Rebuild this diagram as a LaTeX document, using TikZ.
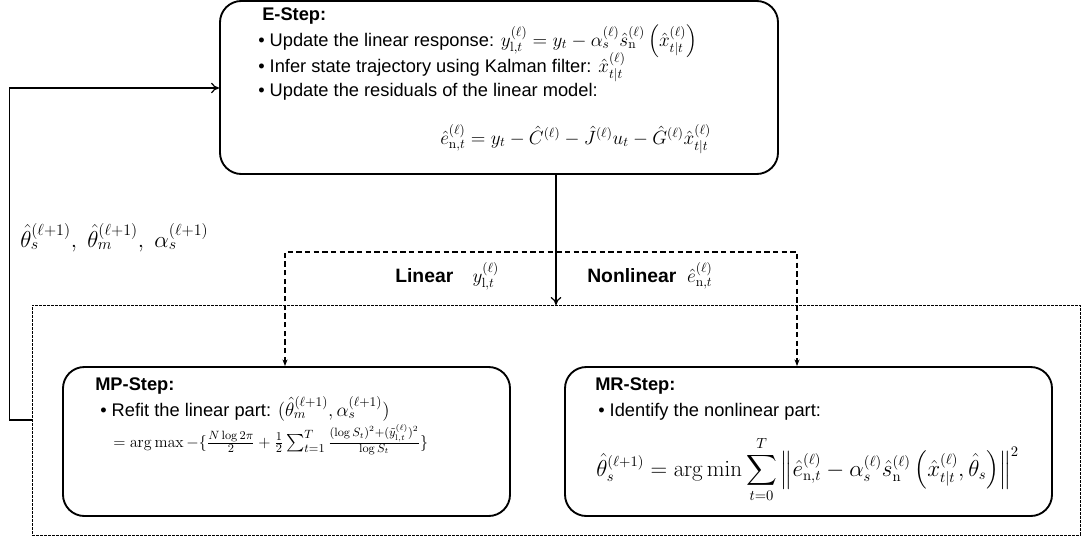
\documentclass[tikz,border=0pt]{standalone}
\usepackage{amsmath, amssymb}
\usepackage[no-math]{fontspec}
\setmainfont{Liberation Sans}
\usetikzlibrary{positioning, fit, arrows.meta}

\begin{document}
\begin{tikzpicture}[x=0.75pt, y=-0.75pt,
        stepbox/.style={draw, line width=1.4pt, rounded corners=16pt, inner sep=0pt},
        outerbox/.style={draw, line width=0.6pt, dash pattern=on 2pt off 1pt, inner sep=0pt},
        flow/.style={line width=0.9pt, -{To[length=6pt, width=8pt]}},
        split/.style={line width=0.8pt, dash pattern=on 4pt off 2.5pt},
        txt/.style={anchor=base west, inner sep=0pt, font=\fontsize{13.7}{16}\selectfont},
        head/.style={txt, font=\fontsize{13.7}{16}\selectfont\bfseries}]
        \useasboundingbox (0,0) rectangle (1088,539);
        % boxes
        \node (estep) [stepbox, fit={(220,1) (778,174)}] {};
        \node (fitbox) [outerbox, fit={(32,305) (1080,535)}] {};
        \node (mp) [stepbox, fit={(63,367) (510,516)}] {};
        \node (mr) [stepbox, fit={(565,367) (1052,516)}] {};
        % E-Step text
        \node (etitle) [head] at (262,21) {E-Step:};
        \node (eline1) [txt] at (258,46) {\textbullet\ Update the linear response: $y_{\mathrm{l},t}^{(\ell)} = y_t - \alpha_s^{(\ell)}\hat{s}_{\mathrm{n}}^{(\ell)}\left(\hat{x}_{t|t}^{(\ell)}\right)$};
        \node (eline2) [txt] at (258,72) {\textbullet\ Infer state trajectory using Kalman filter: $\hat{x}_{t|t}^{(\ell)}$};
        \node (eline3) [txt] at (258,96) {\textbullet\ Update the residuals of the linear model:};
        \node (eform) [txt] at (440,144) {$\hat{e}_{\mathrm{n},t}^{(\ell)} = y_t - \hat{C}^{(\ell)} - \hat{J}^{(\ell)}u_t - \hat{G}^{(\ell)}\hat{x}_{t|t}^{(\ell)}$};
        % MP-Step text
        \node (mptitle) [head] at (95,390) {MP-Step:};
        \node (mpline) [txt] at (100,416) {\textbullet\ Refit the linear part: $(\hat{\theta}_m^{(\ell+1)}, \alpha_s^{(\ell+1)})$};
        \node (mpform) [txt, font=\fontsize{13}{15}\selectfont] at (113,447) {$= \arg\max -\{\frac{N\log 2\pi}{2} + \frac{1}{2}\sum_{t=1}^{T}\frac{(\log S_t)^2+(\tilde{y}_{\mathrm{l},t}^{(\ell)})^2}{\log S_t}\}$};
        % MR-Step text
        \node (mrtitle) [head] at (595,390) {MR-Step:};
        \node (mrline) [txt] at (598,416) {\textbullet\ Identify the nonlinear part:};
        \node (mrform) [txt, font=\fontsize{16}{18}\selectfont] at (596,476) {$\displaystyle \hat{\theta}_s^{(\ell+1)} = \arg\min\sum_{t=0}^{T}\left\|\hat{e}_{\mathrm{n},t}^{(\ell)} - \alpha_s^{(\ell)}\hat{s}_{\mathrm{n}}^{(\ell)}\left(\hat{x}_{t|t}^{(\ell)},\hat{\theta}_s\right)\right\|^{2}$};
        % labels on the connectors
        \node (fblabel) [txt, font=\fontsize{17.5}{20}\selectfont] at (20,247) {$\hat{\theta}_s^{(\ell+1)},\; \hat{\theta}_m^{(\ell+1)},\; \alpha_s^{(\ell+1)}$};
        \node (linlabel) [txt, font=\fontsize{14.5}{17}\selectfont] at (395,282) {\textbf{Linear}\quad $y_{\mathrm{l},t}^{(\ell)}$};
        \node (nonlinlabel) [txt, font=\fontsize{14.5}{17}\selectfont] at (587,282) {\textbf{Nonlinear}\ \ $\hat{e}_{\mathrm{n},t}^{(\ell)}$};
        % connectors
        \coordinate (down) at (556,305);
        \coordinate (lin) at (285,252);
        \coordinate (nonlin) at (797,252);
        \draw[flow] (estep.south -| down) -- (down);
        \draw[flow] (fitbox.west) -- ++(-22,0) |- (estep.west |- 0,88);
        \draw[split, {Stealth[length=5pt]}-{Stealth[length=5pt]}] (lin |- mp.north) -- (lin) -- (nonlin) -- (nonlin |- mr.north);
    \end{tikzpicture}
\end{document}
